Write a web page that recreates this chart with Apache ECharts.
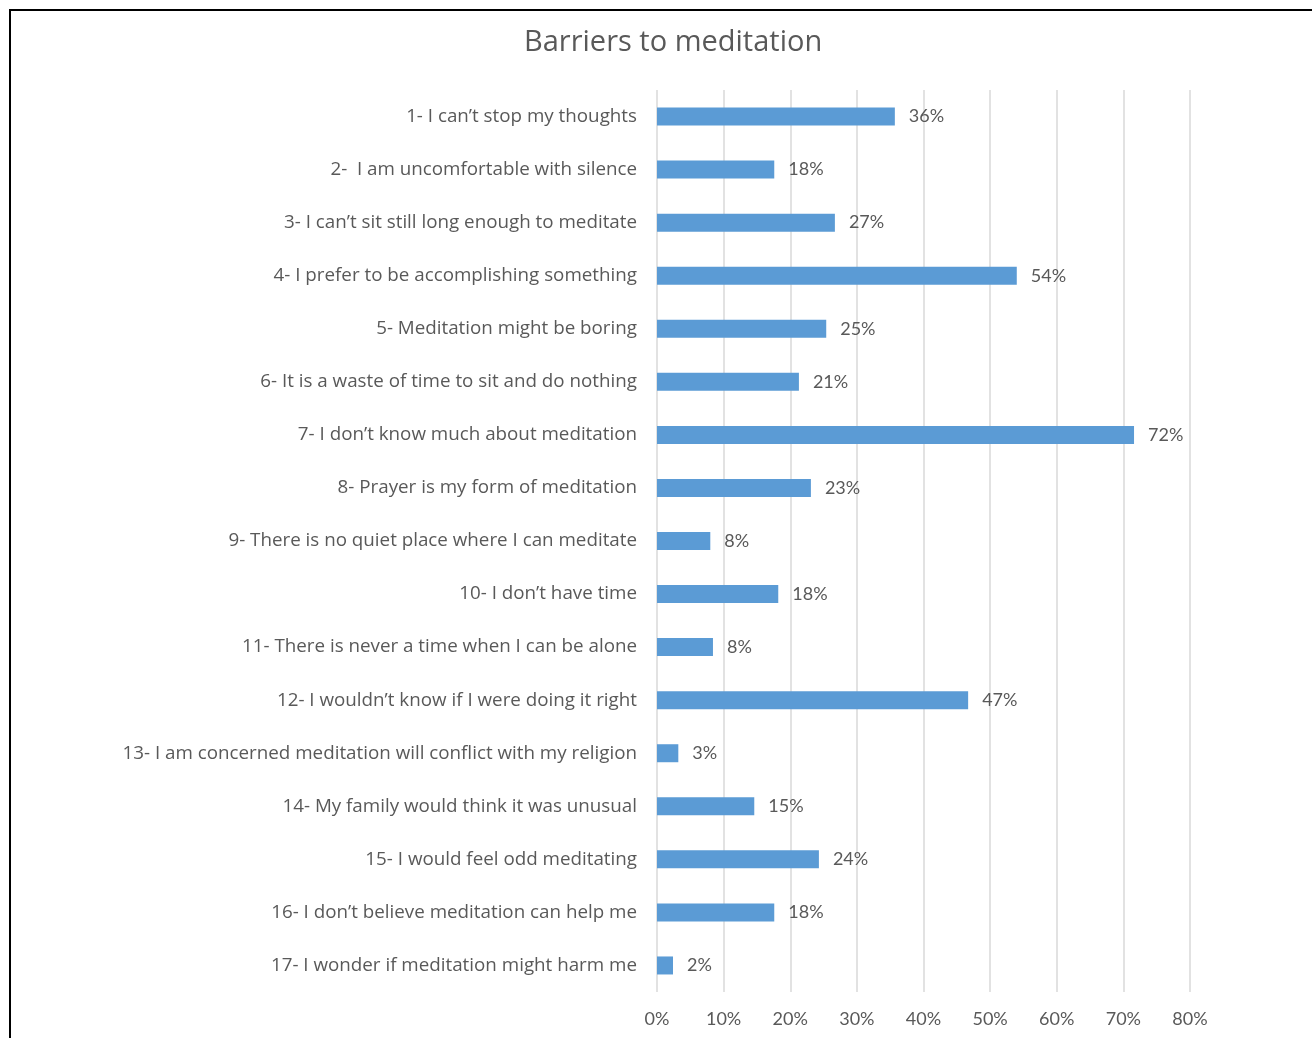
<!DOCTYPE html>
<html>
<head>
<meta charset="utf-8">
<script src="https://cdn.jsdelivr.net/npm/echarts@6/dist/echarts.min.js"></script>
<style>
html,body{margin:0;padding:0;background:#fff;}
#frame{position:absolute;left:9px;top:9px;width:1400px;height:1100px;border-left:2px solid #000;border-top:2px solid #000;}
#main{position:absolute;left:0;top:0;width:1312px;height:1038px;}
</style>
</head>
<body>
<div id="frame"></div>
<div id="main"></div>
<script>
var categories = [
	"1- I can\u2019t stop my thoughts",
	"2-  I am uncomfortable with silence",
	"3- I can\u2019t sit still long enough to meditate",
	"4- I prefer to be accomplishing something",
	"5- Meditation might be boring",
	"6- It is a waste of time to sit and do nothing",
	"7- I don\u2019t know much about meditation",
	"8- Prayer is my form of meditation",
	"9- There is no quiet place where I can meditate",
	"10- I don\u2019t have time",
	"11- There is never a time when I can be alone",
	"12- I wouldn\u2019t know if I were doing it right",
	"13- I am concerned meditation will conflict with my religion",
	"14- My family would think it was unusual",
	"15- I would feel odd meditating",
	"16- I don\u2019t believe meditation can help me",
	"17- I wonder if meditation might harm me"
]
// percentages (labels show them rounded)
var values = [35.7, 17.6, 26.7, 54.0, 25.4, 21.3, 71.6, 23.1, 8.0, 18.2, 8.4, 46.7, 3.2, 14.6, 24.3, 17.6, 2.4]

var mychart = echarts.init(document.getElementById('main'))
var txt = "#595959"
var font = "Open Sans"
var numFont = "Lato"
var option = {
	animation: false,
	title: {
		text: "Barriers to meditation",
		left: 519,
		top: 23,
		textStyle: {color: txt, fontSize: 29, fontWeight: "normal", fontFamily: font}
	},
	grid: {left: 657, right: 122, top: 90, bottom: 46, containLabel: false},
	xAxis: {
		type: "value",
		min: 0,
		max: 80,
		interval: 10,
		axisLine: {show: false},
		axisTick: {show: false},
		axisLabel: {formatter: "{value}%", color: txt, fontSize: 18, fontFamily: numFont, margin: 18},
		splitLine: {lineStyle: {color: "#d9d9d9", width: 1.5}}
	},
	yAxis: {
		type: "category",
		data: categories,
		inverse: true,
		axisLine: {show: false},
		axisTick: {show: false},
		axisLabel: {color: txt, fontSize: 18.8, fontFamily: font, margin: 20}
	},
	series: [{
		type: "bar",
		data: values,
		barWidth: 18,
		itemStyle: {color: "#5b9bd5"},
		label: {
			show: true,
			position: "right",
			distance: 14,
			color: txt,
			fontSize: 18,
			fontFamily: numFont,
			formatter: function (p) { return Math.round(p.value) + "%" }
		}
	}]
}
mychart.setOption(option)
</script>
</body>
</html>
